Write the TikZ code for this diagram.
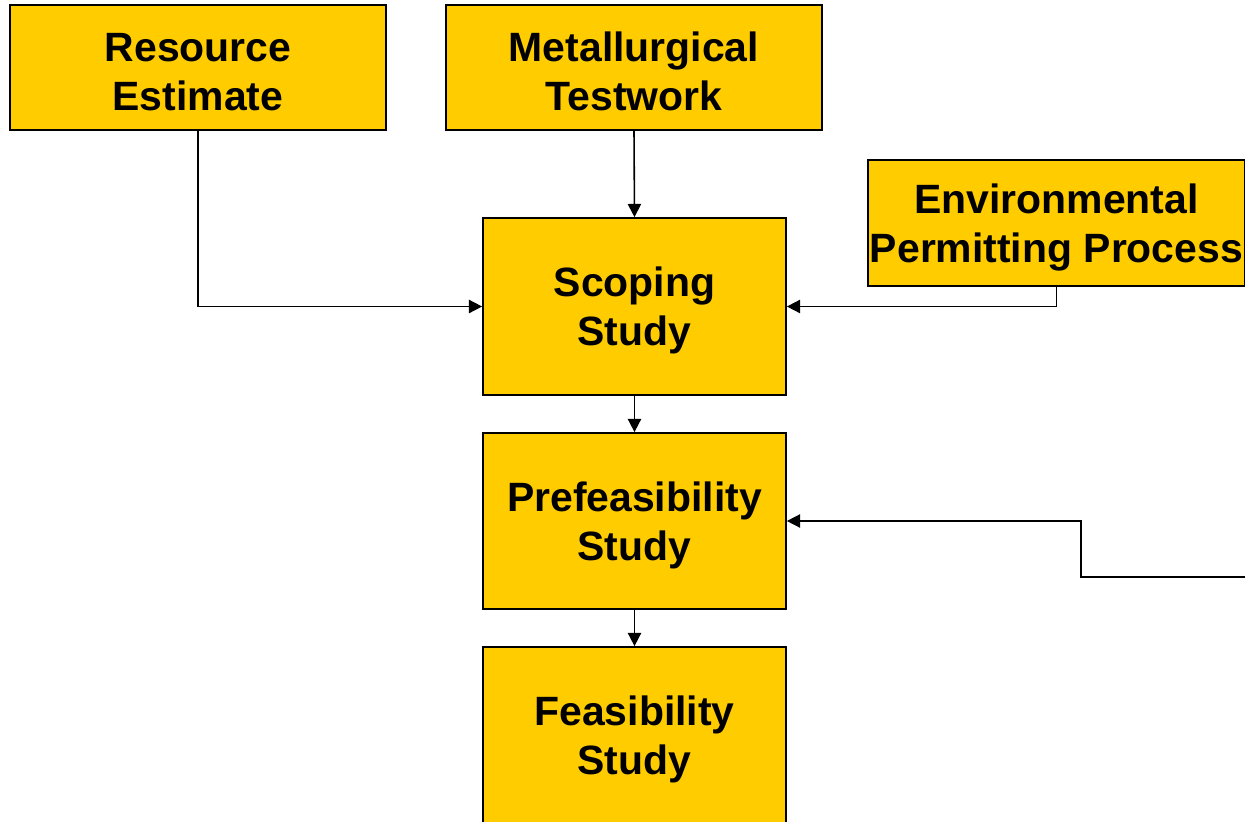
\documentclass[tikz,border=0pt]{standalone}
\usepackage{fontspec}
\setmainfont{Liberation Sans}
\usetikzlibrary{arrows.meta}
\definecolor{boxyellow}{RGB}{255,204,0}
\begin{document}
\begin{tikzpicture}[x=0.02cm,y=-0.02cm,
                stage/.style={draw,line width=1pt,fill=boxyellow,align=center,inner sep=0pt,
                    font=\fontsize{23.3}{27.8}\selectfont\bfseries,text height=49.5pt},
                feed/.style={line width=0.9pt,-{Triangle[length=7.5pt,width=7.5pt]}}]
                \useasboundingbox (0,0) rectangle (1245,822);
                \node[stage,minimum width=7.52cm,minimum height=2.5cm] (res) at (198,67.5) {Resource\\Estimate};
                \node[stage,minimum width=7.52cm,minimum height=2.5cm] (met) at (634,67.5) {Metallurgical\\Testwork};
                \node[stage,minimum width=7.54cm,minimum height=2.52cm] (env) at (1056.5,223) {Environmental\\Permitting Process};
                \node[stage,minimum width=6.06cm,minimum height=3.54cm] (scope) at (634.5,306.5) {Scoping\\Study};
                \node[stage,minimum width=6.06cm,minimum height=3.52cm] (prefeas) at (634.5,521) {Prefeasibility\\Study};
                \node[stage,minimum width=6.06cm,minimum height=3.54cm] (feas) at (634.5,735.5) {Feasibility\\Study};
                \coordinate (offright) at (1245,577);
                \draw[feed] (res.south) |- (scope.west);
                \draw[feed] (met.south) -- (scope.north);
                \draw[feed] (env.south) |- (scope.east);
                \draw[feed] (scope.south) -- (prefeas.north);
                \draw[feed] (prefeas.south) -- (feas.north);
                \draw[feed] (offright) -- (1081,577) |- (prefeas.east);
            \end{tikzpicture}
\end{document}
